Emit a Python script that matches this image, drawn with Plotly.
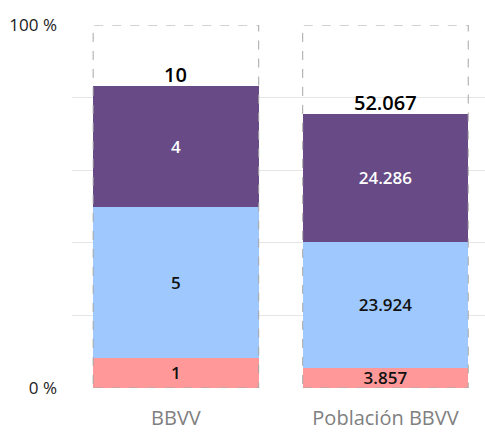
import plotly.graph_objects as go

categorias = ["BBVV", "Población BBVV"]
series = ["Grupo 1", "Grupo 2", "Grupo 3"]
valores_1 = [1, 3857]
valores_2 = [5, 23924]
valores_3 = [4, 24286]
universo = [12, 69000]
colores = ["#FF9999", "#9FC9FE", "#674A86"]
color_texto = ["#111111", "#111111", "#FFFFFF"]
ticks_y = [0, 20, 40, 60, 80, 100]
etiquetas_y = ["0 %", "", "", "", "", "100 %"]

FUENTE = "Open Sans"


def fmt(v):
    return f"{v:,}".replace(",", ".")


fig = go.Figure()

for nombre, vals, col, ctxt in zip(series, [valores_1, valores_2, valores_3], colores, color_texto):
    pct = [v / u * 100 for v, u in zip(vals, universo)]
    fig.add_trace(
        go.Bar(
            x=categorias,
            y=pct,
            name=nombre,
            marker=dict(color=col, line=dict(width=0)),
            text=[fmt(v) for v in vals],
            textposition="inside",
            insidetextanchor="middle",
            textangle=0,
            textfont=dict(family=FUENTE, size=17, color=ctxt, weight=600),
            hoverinfo="skip",
        )
    )

# marco discontinuo del 100 %
for i, cat in enumerate(categorias):
    fig.add_shape(
        type="rect",
        xref="x",
        yref="y",
        x0=i - 0.395,
        x1=i + 0.395,
        y0=0,
        y1=100,
        line=dict(color="#A6A6A6", width=1, dash="dash"),
        layer="above",
    )

# totales sobre cada barra
for i, cat in enumerate(categorias):
    total = valores_1[i] + valores_2[i] + valores_3[i]
    fig.add_annotation(
        x=cat,
        y=total / universo[i] * 100,
        text=fmt(total),
        showarrow=False,
        yanchor="bottom",
        yshift=-4,
        font=dict(family=FUENTE, size=20, color="#000000", weight=600),
    )

fig.update_layout(
    barmode="stack",
    bargap=0.21,
    width=485,
    height=432,
    margin=dict(l=72, r=0, t=25, b=44),
    paper_bgcolor="white",
    plot_bgcolor="white",
    showlegend=False,
    uniformtext=dict(minsize=17, mode="show"),
    font=dict(family=FUENTE),
)

fig.update_xaxes(
    range=[-0.496, 1.475],
    showgrid=False,
    showline=False,
    ticks="",
    automargin=False,
    ticklabelstandoff=16,
    tickfont=dict(family=FUENTE, size=20, color="#808080"),
)

fig.update_yaxes(
    range=[0, 100],
    tickvals=ticks_y,
    ticktext=etiquetas_y,
    showgrid=True,
    gridcolor="#E6E6E6",
    gridwidth=1,
    zeroline=False,
    showline=False,
    ticks="",
    automargin=False,
    ticklabelstandoff=14,
    tickfont=dict(family=FUENTE, size=17, color="#1A1A1A"),
)

fig.write_html(
    "out.html",
    config={"displayModeBar": False},
    post_script="document.body.style.margin='0px';",
)
